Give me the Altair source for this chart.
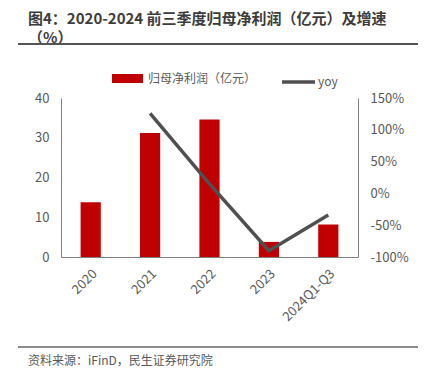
import altair as alt
import pandas as pd

years = ["2020", "2021", "2022", "2023", "2024Q1-Q3"]
profit = [13.8, 31.2, 34.6, 3.8, 8.2]
yoy = [None, 126, 15, -90, -34]
bar_name = "归母净利润（亿元）"
line_name = "yoy"
title_lines = ["图4：2020-2024 前三季度归母净利润（亿元）及增速", "（%）"]
source_text = "资料来源：iFinD，民生证券研究院"

FONT = "Noto Sans CJK SC"
df = pd.DataFrame({"year": years, "profit": profit, "yoy": yoy,
                   "s": [bar_name] * 5, "t": [line_name] * 5})

xscale = alt.Scale(paddingInner=0.66, paddingOuter=0.33)
xenc = alt.X("year:N", sort=years, scale=xscale,
             axis=alt.Axis(title=None, labelAngle=-45, labelAlign="right", labelBaseline="top",
                           labelPadding=10, ticks=False, domainColor="#808080",
                           labelColor="#595959", labelFont=FONT, labelFontSize=13))

bars = alt.Chart(df).mark_bar(color="#C00000").encode(
    x=xenc,
    y=alt.Y("profit:Q", scale=alt.Scale(domain=[0, 40]),
            axis=alt.Axis(title=None, values=[0, 10, 20, 30, 40], grid=False, ticks=False,
                          domainColor="#808080", labelColor="#595959", labelFont=FONT,
                          labelFontSize=13, labelPadding=12)),
    fill=alt.Fill("s:N", scale=alt.Scale(domain=[bar_name], range=["#C00000"]),
                  legend=alt.Legend(title=None, orient="none", legendX=51, legendY=-35,
                                    padding=0, symbolType="M-1,-0.29H1V0.29H-1Z",
                                    symbolSize=961, symbolStrokeWidth=0, labelOffset=5,
                                    labelFont=FONT, labelFontSize=12, labelColor="#595959")),
)

line = alt.Chart(df).mark_line(strokeWidth=3.5).encode(
    x=xenc,
    y=alt.Y("yoy:Q", scale=alt.Scale(domain=[-100, 150]),
            axis=alt.Axis(title=None, orient="right", values=[-100, -50, 0, 50, 100, 150],
                          grid=False, ticks=False, domainColor="#808080",
                          labelColor="#595959", labelFont=FONT, labelFontSize=13,
                          labelPadding=12, labelExpr="datum.value + '%'")),
    stroke=alt.Stroke("t:N", scale=alt.Scale(domain=[line_name], range=["#505050"]),
                      legend=alt.Legend(title=None, orient="none", legendX=219, legendY=-34.5,
                                        padding=0, symbolType="stroke", symbolSize=1089,
                                        symbolStrokeWidth=3.5, labelOffset=1,
                                        labelFont=FONT, labelFontSize=12, labelColor="#595959")),
)

one = pd.DataFrame({"a": [0]})
title1 = alt.Chart(one).mark_text(text=title_lines[0], font=FONT, fontSize=15, fontWeight="bold",
                                  color="#3c3c3c", align="left", baseline="top").encode(
    x=alt.value(-33), y=alt.value(-86))
title2 = alt.Chart(one).mark_text(text=title_lines[1], font=FONT, fontSize=15, fontWeight="bold",
                                  color="#3c3c3c", align="left", baseline="top").encode(
    x=alt.value(-33), y=alt.value(-67))
rule1 = alt.Chart(one).mark_rule(color="#555555", strokeWidth=2).encode(
    x=alt.value(-43), x2=alt.value(365), y=alt.value(-54))
rule2 = alt.Chart(one).mark_rule(color="#666666", strokeWidth=1.5).encode(
    x=alt.value(-43), x2=alt.value(365), y=alt.value(249))
src = alt.Chart(one).mark_text(text=source_text, font=FONT, fontSize=12, color="#595959",
                               align="left", baseline="middle").encode(
    x=alt.value(-33), y=alt.value(263))

chart = alt.layer(bars, line, title1, title2, rule1, rule2, src).resolve_scale(
    y="independent"
).properties(
    width=297, height=159,
    autosize=alt.AutoSizeParams(type="none"),
    padding={"left": 53, "top": 90, "right": 60, "bottom": 110},
).configure_view(stroke=None)

chart.save("out.html", embed_options={"renderer": "svg", "actions": False})
